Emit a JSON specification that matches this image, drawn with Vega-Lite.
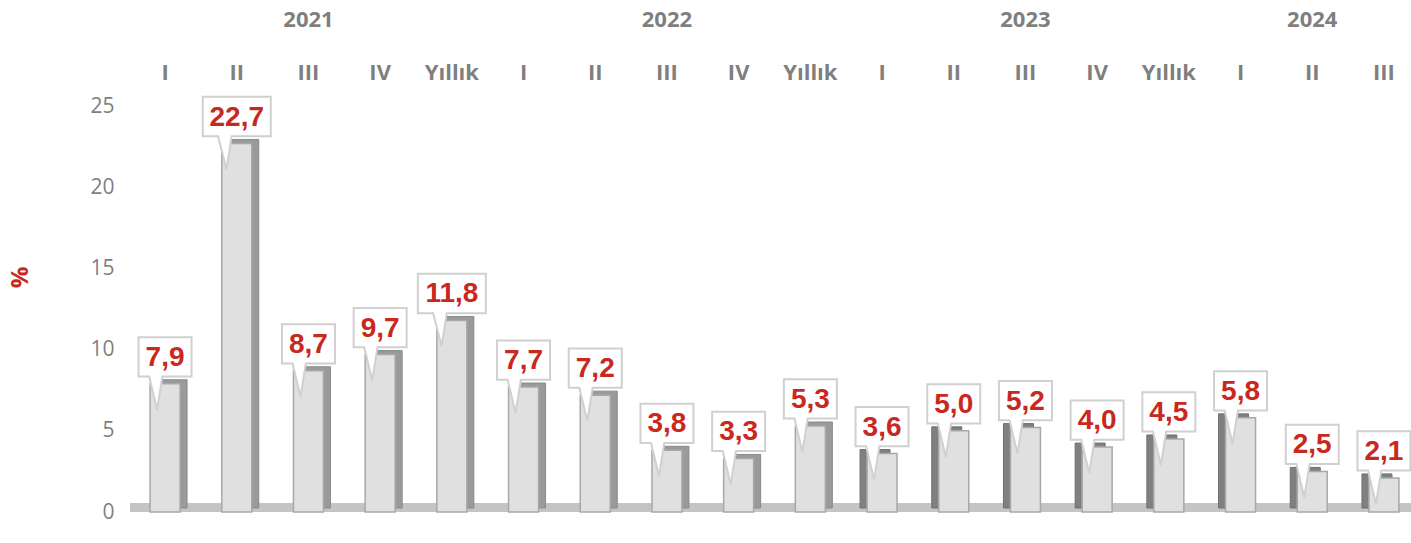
{
  "$schema": "https://vega.github.io/schema/vega-lite/v6.json",
  "autosize": "none",
  "width": 1289,
  "height": 422,
  "padding": {"left": 130, "top": 90, "right": 0, "bottom": 31},
  "background": "white",
  "config": {
    "view": {"stroke": null},
    "locale": {"number": {"decimal": ",", "thousands": ".", "grouping": [3], "currency": ["", ""]}}
  },
  "datasets": {
    "main": [
      {"p": "2021 I", "year": 2021, "v": 7.9},
      {"p": "2021 II", "year": 2021, "v": 22.7},
      {"p": "2021 III", "year": 2021, "v": 8.7},
      {"p": "2021 IV", "year": 2021, "v": 9.7},
      {"p": "2021 Yıllık", "year": 2021, "v": 11.8},
      {"p": "2022 I", "year": 2022, "v": 7.7},
      {"p": "2022 II", "year": 2022, "v": 7.2},
      {"p": "2022 III", "year": 2022, "v": 3.8},
      {"p": "2022 IV", "year": 2022, "v": 3.3},
      {"p": "2022 Yıllık", "year": 2022, "v": 5.3},
      {"p": "2023 I", "year": 2023, "v": 3.6},
      {"p": "2023 II", "year": 2023, "v": 5.0},
      {"p": "2023 III", "year": 2023, "v": 5.2},
      {"p": "2023 IV", "year": 2023, "v": 4.0},
      {"p": "2023 Yıllık", "year": 2023, "v": 4.5},
      {"p": "2024 I", "year": 2024, "v": 5.8},
      {"p": "2024 II", "year": 2024, "v": 2.5},
      {"p": "2024 III", "year": 2024, "v": 2.1}
    ],
    "years": [
      {"p": "2021 III", "year": "2021"},
      {"p": "2022 III", "year": "2022"},
      {"p": "2023 III", "year": "2023"},
      {"p": "2024 II", "year": "2024"}
    ]
  },
  "data": {"name": "main"},
  "encoding": {
    "x": {
      "field": "p",
      "type": "nominal",
      "scale": {
        "domain": ["2021 I","2021 II","2021 III","2021 IV","2021 Yıllık","2022 I","2022 II","2022 III","2022 IV","2022 Yıllık","2023 I","2023 II","2023 III","2023 IV","2023 Yıllık","2024 I","2024 II","2024 III"],
        "paddingInner": 0.6,
        "paddingOuter": 0.289
      },
      "axis": {
        "orient": "top",
        "title": null,
        "labelExpr": "split(datum.label, ' ')[1]",
        "labelAngle": 0,
        "domain": false,
        "ticks": false,
        "tickSize": 0,
        "labelPadding": 11,
        "labelBaseline": "alphabetic",
        "labelFont": "Open Sans",
        "labelFontWeight": "bold",
        "labelFontSize": 22,
        "labelColor": "#7f7f7f"
      }
    }
  },
  "layer": [
    {
      "mark": {"type": "rule", "color": "#c4c4c4", "strokeWidth": 9},
      "encoding": {"x": null, "y": {"datum": 0.28, "type": "quantitative"}}
    },
    {
      "transform": [{"filter": "datum.year <= 2022"}],
      "mark": {"type": "bar", "width": 30, "fill": "#9a9a9a", "stroke": "#8a8a8a", "strokeWidth": 1, "xOffset": 7, "yOffset": -4},
      "encoding": {"y": {"field": "v", "type": "quantitative"}}
    },
    {
      "transform": [{"filter": "datum.year > 2022"}],
      "mark": {"type": "bar", "width": 30, "fill": "#808080", "stroke": "#707070", "strokeWidth": 1, "xOffset": -7, "yOffset": -4},
      "encoding": {"y": {"field": "v", "type": "quantitative"}}
    },
    {
      "mark": {"type": "bar", "width": 30, "fill": "#e0e0e0", "stroke": "#a8a8a8", "strokeWidth": 1.5},
      "encoding": {
        "y": {
          "field": "v",
          "type": "quantitative",
          "scale": {"domain": [0, 26], "nice": false},
          "axis": {
            "orient": "left",
            "values": [0, 5, 10, 15, 20, 25],
            "grid": false,
            "domain": false,
            "ticks": false,
            "labelPadding": 16,
            "labelFont": "Open Sans",
            "labelFontSize": 21,
            "labelColor": "#7f7f7f",
            "title": "%",
            "titleColor": "#c8281e",
            "titleFont": "Open Sans",
            "titleFontWeight": "bold",
            "titleFontSize": 24,
            "titleX": -110,
            "titleY": 187,
            "titleAngle": 270,
            "titleAlign": "center",
            "titleBaseline": "middle"
          }
        }
      }
    },
    {
      "transform": [{"filter": "datum.v < 10"}],
      "mark": {
        "type": "point",
        "shape": "M-1,-0.74 L1,-0.74 L1,0.74 L-0.1,0.74 L-0.3,2.0 L-0.6,0.74 L-1,0.74 Z",
        "size": 2809,
        "filled": true,
        "fill": "white",
        "stroke": "#d0d0d0",
        "strokeWidth": 2,
        "opacity": 1,
        "yOffset": -27
      },
      "encoding": {"y": {"field": "v", "type": "quantitative"}}
    },
    {
      "transform": [{"filter": "datum.v >= 10"}],
      "mark": {
        "type": "point",
        "shape": "M-1,-0.58 L1,-0.58 L1,0.58 L-0.15,0.58 L-0.3,1.55 L-0.55,0.58 L-1,0.58 Z",
        "size": 4624,
        "filled": true,
        "fill": "white",
        "stroke": "#d0d0d0",
        "strokeWidth": 2,
        "opacity": 1,
        "yOffset": -27
      },
      "encoding": {"y": {"field": "v", "type": "quantitative"}}
    },
    {
      "mark": {
        "type": "text",
        "font": "Liberation Sans",
        "fontWeight": "bold",
        "fontSize": 28,
        "fill": "#c8281e",
        "baseline": "middle",
        "align": "center",
        "yOffset": -26
      },
      "encoding": {
        "y": {"field": "v", "type": "quantitative"},
        "text": {"field": "v", "type": "quantitative", "format": ".1f"}
      }
    },
    {
      "data": {"name": "years"},
      "mark": {
        "type": "text",
        "font": "Open Sans",
        "fontWeight": "bold",
        "fontSize": 22,
        "fill": "#7f7f7f",
        "baseline": "alphabetic",
        "align": "center"
      },
      "encoding": {
        "y": {"datum": 29.9, "type": "quantitative"},
        "text": {"field": "year", "type": "nominal"}
      }
    }
  ]
}
